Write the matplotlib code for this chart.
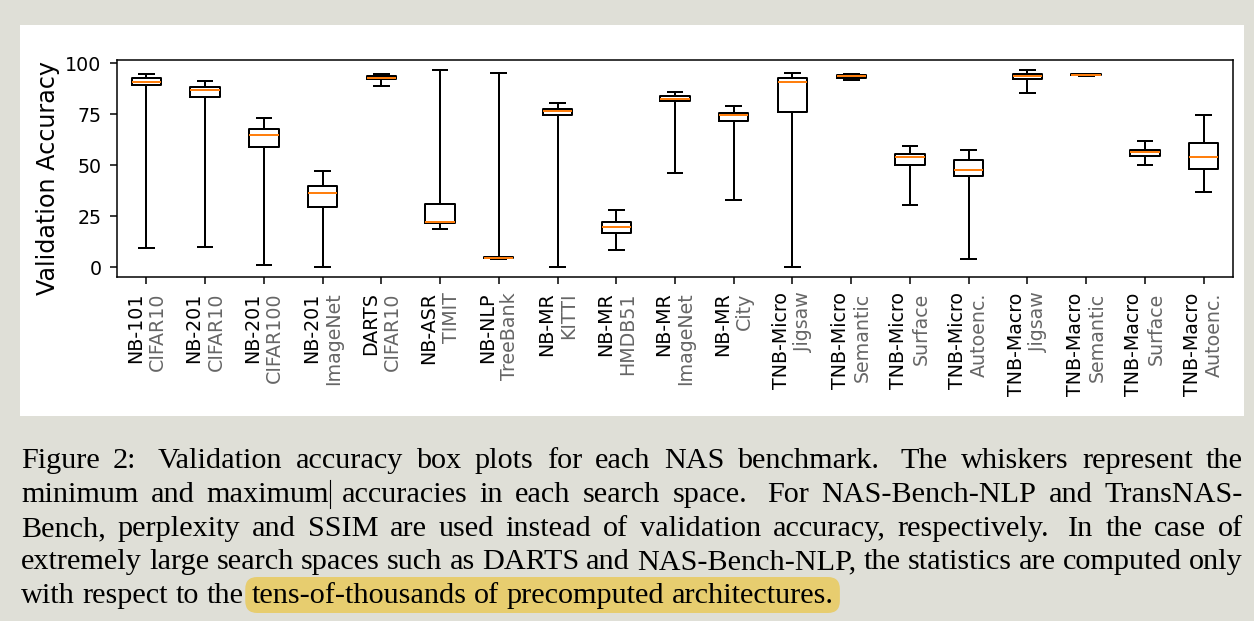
import numpy as np
import matplotlib
matplotlib.use("Agg")
import matplotlib.pyplot as plt
from matplotlib.transforms import offset_copy, IdentityTransform
from matplotlib.patches import FancyBboxPatch, Rectangle
from matplotlib.lines import Line2D

# benchmark names (black) and datasets (grey)
bench = ["NB-101", "NB-201", "NB-201", "NB-201", "DARTS", "NB-ASR", "NB-NLP",
         "NB-MR", "NB-MR", "NB-MR", "NB-MR", "TNB-Micro", "TNB-Micro",
         "TNB-Micro", "TNB-Micro", "TNB-Macro", "TNB-Macro", "TNB-Macro", "TNB-Macro"]
dataset = ["CIFAR10", "CIFAR10", "CIFAR100", "ImageNet", "CIFAR10", "TIMIT", "TreeBank",
           "KITTI", "HMDB51", "ImageNet", "City", "Jigsaw", "Semantic", "Surface",
           "Autoenc.", "Jigsaw", "Semantic", "Surface", "Autoenc."]

# box statistics
whis_lo = [9.3, 9.9, 1.0, 0.2, 88.6, 18.9, 4.2, 0.0, 8.5, 45.9, 32.7, 0.0, 91.7, 30.6, 4.2, 85.5, 93.8, 50.3, 37.0]
q1      = [89.3, 83.6, 58.8, 29.3, 92.0, 21.7, 4.3, 74.6, 16.6, 81.3, 71.7, 75.9, 92.8, 50.0, 44.8, 92.2, 94.0, 54.7, 48.0]
median  = [90.9, 86.6, 64.8, 36.2, 92.7, 22.1, 4.7, 76.4, 19.9, 82.6, 74.4, 90.6, 93.8, 54.2, 47.6, 93.6, 94.3, 56.4, 54.2]
q3      = [92.7, 88.3, 67.8, 39.9, 93.5, 30.9, 5.1, 77.5, 22.3, 83.9, 75.7, 92.5, 94.3, 55.5, 52.4, 94.8, 94.5, 57.5, 60.7]
whis_hi = [94.8, 91.4, 73.0, 47.1, 94.5, 96.6, 95.1, 80.3, 28.0, 85.8, 79.0, 95.0, 94.6, 59.4, 57.5, 96.7, 94.6, 61.6, 74.6]

caption_lines = [
    "Figure 2: Validation accuracy box plots for each NAS benchmark. The whiskers represent the",
    "minimum and maximum accuracies in each search space. For NAS-Bench-NLP and TransNAS-",
    "Bench, perplexity and SSIM are used instead of validation accuracy, respectively. In the case of",
    "extremely large search spaces such as DARTS and NAS-Bench-NLP, the statistics are computed only",
    "with respect to the tens-of-thousands of precomputed architectures.",
]
highlight_from = 4  # word index on last line where highlight starts

W, H = 1254, 621
fig = plt.figure(figsize=(W / 100, H / 100), dpi=100, facecolor="#dfdfd7")

def fx(px):
    return px / W

def fy(py):
    return 1 - py / H

# white panel behind the plot
fig.patches.append(Rectangle((20, H - 416), 1224, 391, transform=IdentityTransform(),
                             facecolor="white", edgecolor="none", zorder=-5))

ax = fig.add_axes([fx(117), fy(277), fx(1233) - fx(117), fy(60) - fy(277)])
s = 1.37  # scale of the original rendering

stats = []
for i in range(len(bench)):
    stats.append(dict(whislo=whis_lo[i], q1=q1[i], med=median[i], q3=q3[i], whishi=whis_hi[i]))

lw = 1.05 * s
ax.bxp(stats, showfliers=False,
       boxprops=dict(color="black", linewidth=lw),
       whiskerprops=dict(color="black", linewidth=lw),
       capprops=dict(color="black", linewidth=lw),
       medianprops=dict(color="#ff7f0e", linewidth=lw))

pos = np.arange(1, len(bench) + 1)
ax.set_xlim(0.5, len(bench) + 0.5)
ax.set_yticks([0, 25, 50, 75, 100])
ax.set_ylabel("Validation Accuracy", fontsize=17.2)
ax.yaxis.set_label_coords(-0.051, 0.454)
for sp in ax.spines.values():
    sp.set_linewidth(0.8 * s)
tl, tp = 3.5 * s, 3.5 * s + 1.5
fs = 10 * s
ax.tick_params(length=tl, width=0.8 * s, pad=tp, labelsize=fs)
ax.set_xticks(pos, [b + "\n" for b in bench], rotation=90, ha="center", va="top",
              fontsize=fs, color="black")

grey_tr = offset_copy(ax.get_xaxis_transform(), fig=fig, y=-(tl + tp), units="points")
for p, d in zip(pos, dataset):
    ax.text(p, 0, "\n" + d, transform=grey_tr, rotation=90, ha="center", va="top",
            fontsize=fs, color="#666666")

# caption, justified like the LaTeX source
renderer = fig.canvas.get_renderer()
cap_font = dict(family="Liberation Serif", fontsize=21.8, color="black")

def width_of(txt):
    t = fig.text(0, 0, txt, **cap_font)
    w = t.get_window_extent(renderer).width
    t.remove()
    return w

x_left, x_right = 21, 1243
baselines = [468, 502, 536, 569, 603]
space_w = width_of("a b") - width_of("ab")
word_boxes = []
for li, (line, base) in enumerate(zip(caption_lines, baselines)):
    words = line.split(" ")
    widths = [width_of(w) for w in words]
    weights = [1.6 if w.endswith(".") or w.endswith(":") else 1.0 for w in words[:-1]]
    if li < len(caption_lines) - 1:
        unit = (x_right - x_left - sum(widths)) / sum(weights)
    else:
        unit = space_w
    x = x_left
    boxes = []
    for k, (w, wd) in enumerate(zip(words, widths)):
        fig.text(fx(x), fy(base), w, ha="left", va="baseline", zorder=3, **cap_font)
        boxes.append((x, x + wd))
        if k < len(weights):
            x += wd + unit * weights[k]
    word_boxes.append(boxes)

# highlighted phrase
hx0 = word_boxes[4][highlight_from][0] - 6
hx1 = word_boxes[4][-1][1] + 6
fig.patches.append(FancyBboxPatch((hx0, H - 613), hx1 - hx0, 36,
                                  boxstyle="round,pad=0,rounding_size=12",
                                  transform=IdentityTransform(),
                                  facecolor="#e7cd6f", edgecolor="none", zorder=1))

# text cursor after "maximum"
cx = word_boxes[1][2][1] + 1
fig.lines.append(Line2D([fx(cx), fx(cx)], [fy(480), fy(508)], transform=fig.transFigure,
                        color="black", linewidth=0.8))

fig.savefig("out.png", dpi=100, facecolor=fig.get_facecolor())
